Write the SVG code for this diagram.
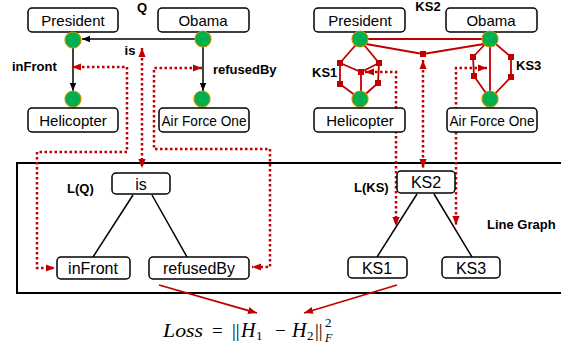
<svg xmlns="http://www.w3.org/2000/svg" width="561" height="354" viewBox="0 0 561 354">
<style>
.box{fill:#fff;stroke:#000;stroke-width:1.5}
.t{font-family:"Liberation Sans",Arial,sans-serif;font-size:15px;fill:#000;text-anchor:middle}
.tl{font-family:"Liberation Sans",Arial,sans-serif;font-size:16px;fill:#000;text-anchor:middle}
.b{font-family:"Liberation Sans",Arial,sans-serif;font-size:13px;font-weight:bold;fill:#000}
.node{fill:#00b050;stroke:#bf9000;stroke-width:1.2}
.edge{stroke:#000;stroke-width:1.5;fill:none}
.red{stroke:#c00000;stroke-width:1.8;fill:none}
.dot{stroke:#c00000;stroke-width:2.5;stroke-dasharray:2.5 2.5;fill:none}
.sq{fill:#c00000}
.m{font-family:"Liberation Serif","Times New Roman",serif;font-size:19px;fill:#000}
</style>
<defs>
<marker id="ab" viewBox="0 0 10 10" refX="10" refY="5" markerWidth="8" markerHeight="8" markerUnits="userSpaceOnUse" orient="auto-start-reverse"><path d="M0,1 L10,5 L0,9 z" fill="#000"/></marker>
<marker id="ar" viewBox="0 0 10 10" refX="10" refY="5" markerWidth="9" markerHeight="9" markerUnits="userSpaceOnUse" orient="auto-start-reverse"><path d="M0,1 L10,5 L0,9 z" fill="#c00000"/></marker>
</defs>

<!-- Line graph frame -->
<rect x="17" y="163" width="560" height="130" fill="none" stroke="#000" stroke-width="2"/>

<!-- labels -->
<text class="b" x="142" y="12" text-anchor="middle">Q</text>
<text class="b" x="130" y="55" text-anchor="middle">is</text>
<text class="b" x="12" y="71">inFront</text>
<text class="b" x="213" y="74">refusedBy</text>
<text class="b" x="428" y="11" text-anchor="middle">KS2</text>
<text class="b" x="312" y="77">KS1</text>
<text class="b" x="516" y="70">KS3</text>
<text class="b" x="67" y="193">L(Q)</text>
<text class="b" x="354" y="192">L(KS)</text>
<text class="b" x="487" y="229">Line Graph</text>

<g id="connectors">
<!-- Q graph edges -->
<line class="edge" x1="195" y1="39" x2="82" y2="39" marker-end="url(#ab)"/>
<line class="edge" x1="73" y1="48" x2="73" y2="91" marker-end="url(#ab)"/>
<line class="edge" x1="203" y1="47" x2="203" y2="91" marker-end="url(#ab)"/>
<!-- KS2 -->
<line class="red" x1="368" y1="39" x2="482" y2="39"/>
<polyline class="red" points="366,44 423,54 484,44"/>
<!-- KS1 -->
<polyline class="red" points="360,40 340,63 340,84 360,99"/>
<polyline class="red" points="360,40 379,63 378,83 360,99"/>
<polyline class="red" points="340,63 361,72 379,63"/>
<line class="red" x1="361" y1="72" x2="361" y2="99"/>
<!-- KS3 -->
<polyline class="red" points="490,39 473,57 474,76 490,99"/>
<polyline class="red" points="490,39 511,57 511,77 490,99"/>
<line class="red" x1="490" y1="39" x2="490" y2="99"/>
<!-- line graph edges -->
<line class="edge" x1="133" y1="195" x2="93" y2="257"/>
<line class="edge" x1="152" y1="195" x2="187" y2="257"/>
<line class="edge" x1="417" y1="194" x2="377" y2="257"/>
<line class="edge" x1="434" y1="194" x2="472" y2="257"/>
<!-- dotted correspondences -->
<path class="dot" d="M72,67 H127 V152 H37 V268 H55" marker-start="url(#ar)" marker-end="url(#ar)"/>
<path class="dot" d="M142,48 V168" marker-start="url(#ar)" marker-end="url(#ar)"/>
<path class="dot" d="M202,68 H154 V149 H270 V267 H252" marker-start="url(#ar)" marker-end="url(#ar)"/>
<path class="dot" d="M365,72 H396 V226" marker-start="url(#ar)" marker-end="url(#ar)"/>
<path class="dot" d="M423,60 V168" marker-start="url(#ar)" marker-end="url(#ar)"/>
<path class="dot" d="M487,68 H456 V225" marker-start="url(#ar)" marker-end="url(#ar)"/>
<!-- loss arrows -->
<line class="red" x1="159" y1="285" x2="257" y2="313" marker-end="url(#ar)"/>
<line class="red" x1="397" y1="285" x2="304" y2="313" marker-end="url(#ar)"/>
</g>

<!-- squares -->
<g id="ks-squares" class="sq">
<rect x="420" y="51" width="6" height="6"/>
<rect x="337" y="60" width="6" height="6"/>
<rect x="337" y="81" width="6" height="6"/>
<rect x="376" y="60" width="6" height="6"/>
<rect x="375" y="80" width="6" height="6"/>
<rect x="358" y="69" width="6" height="6"/>
<rect x="470" y="54" width="6" height="6"/>
<rect x="471" y="73" width="6" height="6"/>
<rect x="508" y="54" width="6" height="6"/>
<rect x="508" y="74" width="6" height="6"/>
</g>

<!-- Q graph nodes -->
<g id="q-president"><rect class="box" x="28" y="8" width="90" height="24" rx="4"/><text class="t" x="73" y="26">President</text><circle class="node" cx="73" cy="40" r="8"/></g>
<g id="q-obama"><rect class="box" x="158" y="8" width="91" height="24" rx="4"/><text class="t" x="203" y="26">Obama</text><circle class="node" cx="203" cy="39" r="8"/></g>
<g id="q-helicopter"><circle class="node" cx="73" cy="99" r="8"/><rect class="box" x="28" y="108" width="90" height="24" rx="4"/><text class="t" x="73" y="126">Helicopter</text></g>
<g id="q-airforceone"><circle class="node" cx="202" cy="99" r="8"/><rect class="box" x="159" y="108" width="90" height="24" rx="4"/><text class="t" x="204" y="126" textLength="85" lengthAdjust="spacingAndGlyphs">Air Force One</text></g>

<!-- KS graph nodes -->
<g id="ks-president"><rect class="box" x="314" y="8" width="91" height="24" rx="4"/><text class="t" x="360" y="26">President</text><circle class="node" cx="360" cy="39" r="8"/></g>
<g id="ks-obama"><rect class="box" x="446" y="8" width="91" height="24" rx="4"/><text class="t" x="491" y="26">Obama</text><circle class="node" cx="490" cy="39" r="8"/></g>
<g id="ks-helicopter"><circle class="node" cx="360" cy="99" r="8"/><rect class="box" x="314" y="108" width="91" height="24" rx="4"/><text class="t" x="360" y="126">Helicopter</text></g>
<g id="ks-airforceone"><circle class="node" cx="490" cy="99" r="8"/><rect class="box" x="447" y="108" width="90" height="24" rx="4"/><text class="t" x="492" y="126" textLength="85" lengthAdjust="spacingAndGlyphs">Air Force One</text></g>

<!-- line graph nodes -->
<g id="lg-is"><rect class="box" x="112" y="173" width="58" height="21" rx="4"/><text class="tl" x="141" y="190">is</text></g>
<g id="lg-infront"><rect class="box" x="57" y="257" width="73" height="22" rx="4"/><text class="tl" x="93" y="274">inFront</text></g>
<g id="lg-refusedby"><rect class="box" x="149" y="257" width="100" height="22" rx="4"/><text class="tl" x="199" y="274">refusedBy</text></g>
<g id="lg-ks2"><rect class="box" x="397" y="171" width="58" height="22" rx="4"/><text class="tl" x="426" y="188">KS2</text></g>
<g id="lg-ks1"><rect class="box" x="348" y="257" width="59" height="21" rx="4"/><text class="tl" x="377" y="274">KS1</text></g>
<g id="lg-ks3"><rect class="box" x="442" y="257" width="58" height="21" rx="4"/><text class="tl" x="471" y="274">KS3</text></g>

<!-- loss formula -->
<g id="loss">
<text class="m" y="337"><tspan x="163" font-style="italic" textLength="40" lengthAdjust="spacingAndGlyphs">Loss</tspan><tspan x="212">=</tspan><tspan x="232">||</tspan><tspan x="241" font-style="italic" font-size="20">H</tspan><tspan x="256" y="340" font-size="13">1</tspan><tspan x="275" y="337">−</tspan><tspan x="292" font-style="italic" font-size="20">H</tspan><tspan x="307" y="340" font-size="13">2</tspan><tspan x="315" y="337">||</tspan><tspan x="325" y="327" font-size="13">2</tspan><tspan x="325" y="342" font-size="12" font-style="italic">F</tspan></text>
</g>
</svg>
